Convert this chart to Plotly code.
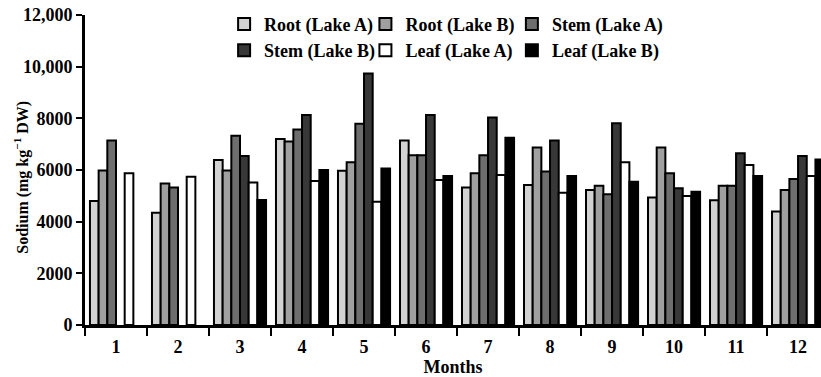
import plotly.graph_objects as go

months = ["1", "2", "3", "4", "5", "6", "7", "8", "9", "10", "11", "12"]
root_a = [4800, 4350, 6390, 7200, 5970, 7140, 5320, 5420, 5230, 4940, 4830, 4390]
root_b = [5980, 5480, 5980, 7100, 6300, 6570, 5870, 6870, 5390, 6870, 5390, 5230]
stem_a = [7140, 5320, 7330, 7570, 7790, 6570, 6570, 5940, 5060, 5870, 5390, 5650]
stem_b = [None, None, 6540, 8130, 9740, 8130, 8030, 7140, 7810, 5290, 6650, 6540]
leaf_a = [5870, 5740, 5520, 5570, 4770, 5610, 5810, 5120, 6300, 4990, 6190, 5770]
leaf_b = [None, None, 4840, 6000, 6060, 5770, 7250, 5770, 5550, 5160, 5770, 6410]

ytick_vals = [0, 2000, 4000, 6000, 8000, 10000, 12000]
ytick_text = ["0", "2000", "4000", "6000", "8000", "10,000", "12,000"]

series = [
    ("Root (Lake A)", root_a, "#d2d2d2", "legend"),
    ("Root (Lake B)", root_b, "#a0a0a0", "legend2"),
    ("Stem (Lake A)", stem_a, "#6e6e6e", "legend3"),
    ("Stem (Lake B)", stem_b, "#383838", "legend"),
    ("Leaf (Lake A)", leaf_a, "#ffffff", "legend2"),
    ("Leaf (Lake B)", leaf_b, "#000000", "legend3"),
]

fig = go.Figure()
for name, vals, col, lg in series:
    fig.add_trace(go.Bar(
        x=months, y=vals, name=name, legend=lg,
        marker=dict(color=col, line=dict(color="black", width=2)),
    ))

font = dict(family="Liberation Serif", size=18, color="black", weight="bold")
legend_font = dict(family="Liberation Serif", size=18, color="black", weight="bold")
legend_common = dict(orientation="v", yanchor="top", xanchor="left", y=1.03,
                     bgcolor="rgba(0,0,0,0)", borderwidth=0, font=legend_font,
                     itemwidth=30, tracegroupgap=0)

fig.update_layout(
    width=821, height=377,
    margin=dict(l=85, r=0, t=15, b=52),
    paper_bgcolor="white", plot_bgcolor="white",
    font=font,
    barmode="group", bargap=0.16, bargroupgap=0,
    legend=dict(x=0.189, **legend_common),
    legend2=dict(x=0.381, **legend_common),
    legend3=dict(x=0.580, **legend_common),
    xaxis=dict(
        type="category", range=[-0.5, 11.37],
        showline=True, linecolor="black", linewidth=3,
        ticks="outside", tickson="boundaries", ticklen=8, tickwidth=2, tickcolor="black",
        ticklabelstandoff=3,
        showgrid=False, zeroline=False,
        title=dict(text="Months", standoff=4, font=font),
    ),
    yaxis=dict(
        range=[0, 12000], tickvals=ytick_vals, ticktext=ytick_text,
        showline=True, linecolor="black", linewidth=3,
        ticks="outside", ticklen=6, tickwidth=2, tickcolor="black",
        showgrid=False, zeroline=False,
    ),
    annotations=[dict(
        text="Sodium (mg kg<sup>−1</sup> DW)", textangle=-90,
        xref="paper", yref="paper", x=0, y=0.475, xshift=-63,
        xanchor="center", yanchor="middle", showarrow=False,
        font=dict(family="Liberation Serif", size=16, color="black", weight="bold"),
    )],
)

fig.write_html("out.html")
